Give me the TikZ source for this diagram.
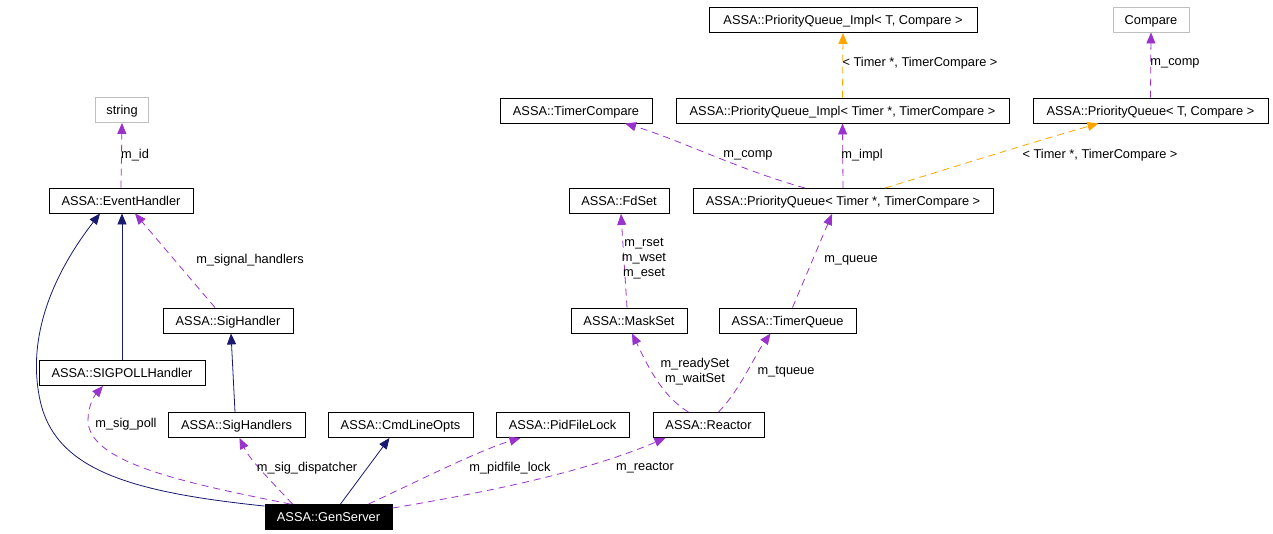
\documentclass[tikz,border=0pt]{standalone}
\usepackage{fontspec}
\setmainfont{Liberation Sans}
\usetikzlibrary{arrows.meta}
\definecolor{dep}{RGB}{154,50,205}
\definecolor{inh}{RGB}{25,25,112}
\definecolor{tmpl}{RGB}{255,165,0}
\definecolor{grayb}{RGB}{191,191,191}
\tikzset{
  box/.style={draw=black, line width=0.9pt, inner sep=0pt, minimum height=25, text height=9.2pt, text depth=0.2pt, font=\fontsize{12.8}{15}\selectfont},
  extbox/.style={box, draw=grayb},
  genbox/.style={box, fill=black, text=white},
  lbl/.style={inner sep=0pt, align=center, font=\fontsize{12.8}{15}\selectfont},
  tip/.style={-{Triangle[length=11pt,width=9pt]}},
  depline/.style={tip, draw=dep, line width=0.8pt, dash pattern=on 7pt off 5pt},
  inhline/.style={tip, draw=inh, line width=0.8pt},
  tmplline/.style={tip, draw=tmpl, line width=0.8pt, dash pattern=on 7pt off 5pt},
}
\begin{document}
\begin{tikzpicture}[x=1pt,y=-1pt]
\useasboundingbox (0,0) rectangle (1273,533);
% nodes
\node[extbox, minimum width=53] (str) at (122,110) {string};
\node[box, minimum width=144] (eh) at (121,200.5) {ASSA::EventHandler};
\node[box, minimum width=130] (sh) at (228,320.5) {ASSA::SigHandler};
\node[box, minimum width=166] (sp) at (122,373) {ASSA::SIGPOLLHandler};
\node[box, minimum width=137] (shs) at (236.5,425) {ASSA::SigHandlers};
\node[box, minimum width=145] (cmd) at (400.5,425) {ASSA::CmdLineOpts};
\node[genbox, minimum width=127] (gen) at (328.5,517) {ASSA::GenServer};
\node[box, minimum width=133] (pid) at (562.5,425) {ASSA::PidFileLock};
\node[box, minimum width=111] (rea) at (708.5,425) {ASSA::Reactor};
\node[box, minimum width=116] (ms) at (629,320.5) {ASSA::MaskSet};
\node[box, minimum width=137] (tq) at (787.5,320.5) {ASSA::TimerQueue};
\node[box, minimum width=100] (fd) at (619,201) {ASSA::FdSet};
\node[box, minimum width=300] (pqt) at (843,201) {ASSA::PriorityQueue< Timer *, TimerCompare >};
\node[box, minimum width=152] (tc) at (576,110.5) {ASSA::TimerCompare};
\node[box, minimum width=333] (pqit) at (842.5,110.5) {ASSA::PriorityQueue\_Impl< Timer *, TimerCompare >};
\node[box, minimum width=268] (pqiT) at (843,20) {ASSA::PriorityQueue\_Impl< T, Compare >};
\node[extbox, minimum width=76] (cmp) at (1151,19.5) {Compare};
\node[box, minimum width=235] (pqT) at (1150.5,110.5) {ASSA::PriorityQueue< T, Compare >};
% edges
\draw[depline] (eh.north) -- (str.south);
\draw[inhline] (sp.north) -- (sp.north |- eh.south);
\draw[depline] ([xshift=-13]sh.north) -- ([xshift=14]eh.south);
\draw[inhline] ([yshift=-2]gen.north west) .. controls (130,492) and (55,470) .. (40,400)
   .. controls (25,330) and (60,265) .. ([xshift=-21]eh.south);
\draw[inhline] ([xshift=-1.5]shs.north) -- ([xshift=3]sh.south);
\draw[depline] ([xshift=-38]gen.north) .. controls (180,482) and (88,462) .. (88,420)
   .. controls (88,405) and (95,395) .. ([xshift=-19]sp.south);
\draw[depline] ([xshift=-36]gen.north) .. controls (270,480) and (250,460) .. ([xshift=3]shs.south);
\draw[inhline] ([xshift=12]gen.north) -- ([xshift=-11]cmd.south);
\draw[depline] ([xshift=40]gen.north) .. controls (420,480) and (480,450) .. ([xshift=-42]pid.south);
\draw[depline] ([yshift=-4]gen.north east) .. controls (500,490) and (590,470) .. ([xshift=-43]rea.south);
\draw[depline] ([xshift=-20]rea.north) .. controls (660,395) and (645,360) .. ([xshift=3]ms.south);
\draw[depline] ([xshift=10]rea.north) .. controls (740,390) and (755,355) .. ([xshift=-17]tq.south);
\draw[depline] ([xshift=-2]ms.north) -- ([xshift=2]fd.south);
\draw[depline] ([xshift=5]tq.north) -- ([xshift=-11]pqt.south);
\draw[depline] ([xshift=-38]pqt.north) .. controls (740,170) and (680,140) .. ([xshift=49]tc.south);
\draw[depline] (pqt.north) -- (pqit.south);
\draw[tmplline] ([xshift=42]pqt.north) .. controls (960,165) and (1040,140) .. ([xshift=-52]pqT.south);
\draw[tmplline] (pqit.north) -- (pqiT.south);
\draw[depline] (pqT.north) -- (cmp.south);
% labels
\node[lbl] (l1) at (135,155) {m\_id};
\node[lbl] (l2) at (250,260) {m\_signal\_handlers};
\node[lbl] (l3) at (126,424) {m\_sig\_poll};
\node[lbl] (l4) at (307,468) {m\_sig\_dispatcher};
\node[lbl] (l5) at (510,468) {m\_pidfile\_lock};
\node[lbl] (l6) at (645,468) {m\_reactor};
\node[lbl] (l7) at (695,372) {m\_readySet\\m\_waitSet};
\node[lbl] (l8) at (786,372) {m\_tqueue};
\node[lbl] (l9) at (644,259) {m\_rset\\m\_wset\\m\_eset};
\node[lbl] (l10) at (851,260) {m\_queue};
\node[lbl] (l11) at (748,155) {m\_comp};
\node[lbl] (l12) at (862,155) {m\_impl};
\node[lbl] (l13) at (1100,155) {< Timer *, TimerCompare >};
\node[lbl] (l14) at (920,63) {< Timer *, TimerCompare >};
\node[lbl] (l15) at (1175,63) {m\_comp};
\end{tikzpicture}
\end{document}
